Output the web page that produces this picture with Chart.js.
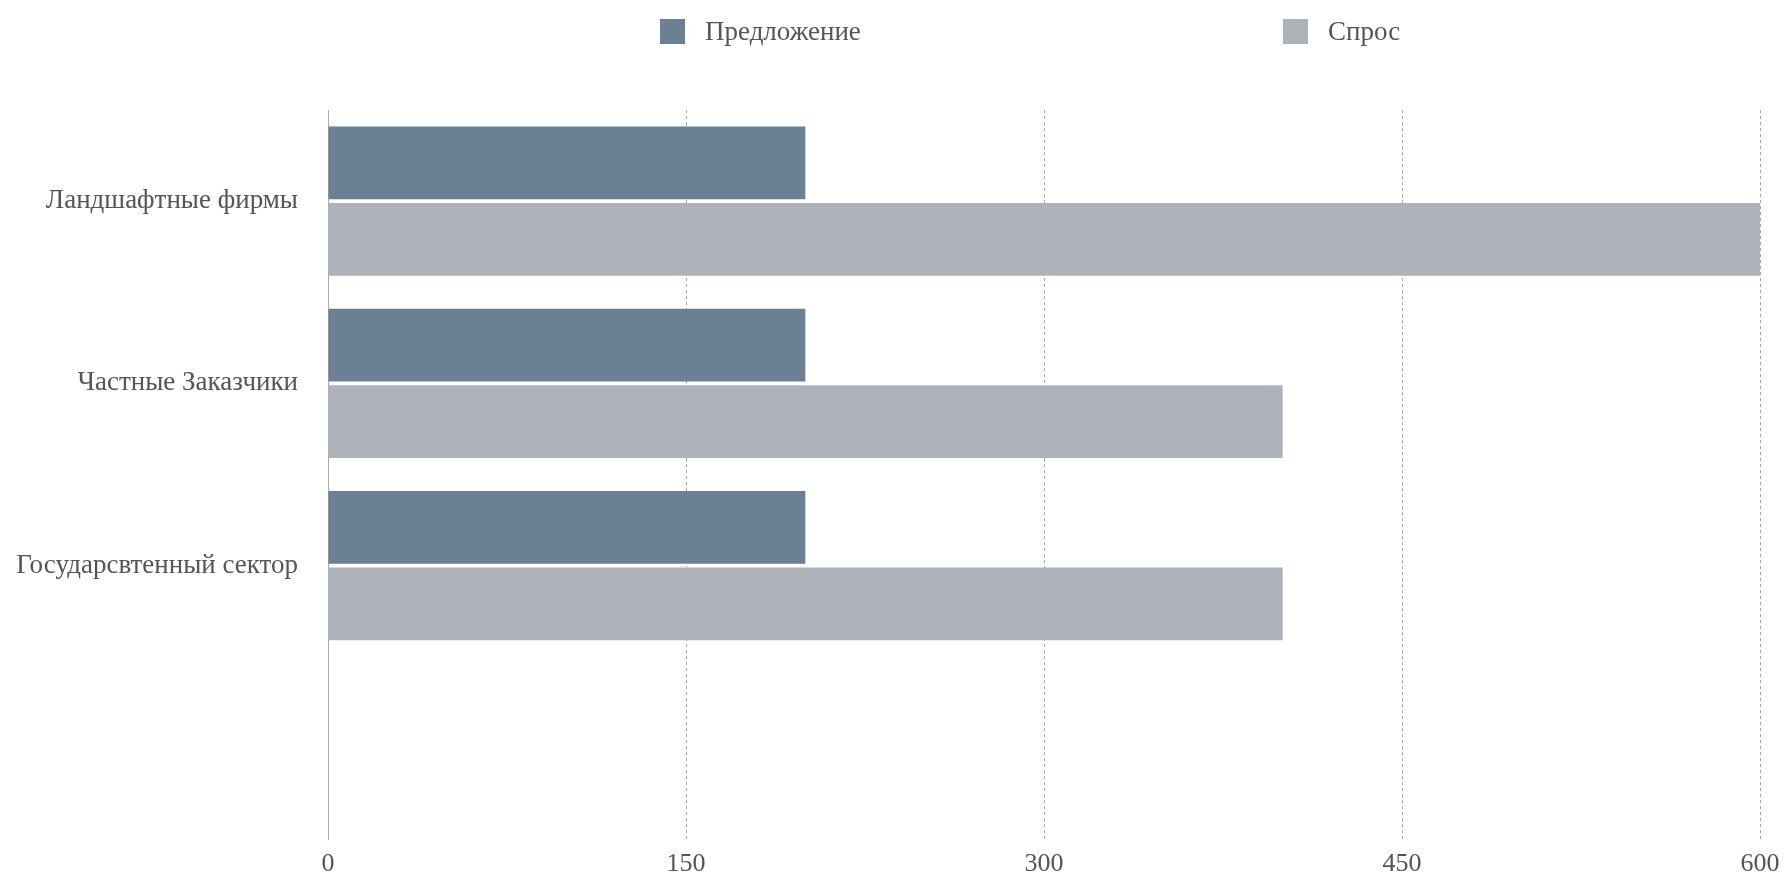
<!DOCTYPE html>
<html>
<head>
<meta charset="utf-8">
<script src="https://cdn.jsdelivr.net/npm/chart.js@4.4.0/dist/chart.umd.min.js"></script>
<style>
    html, body { margin: 0; padding: 0; background: #fff; }
    #wrap { position: relative; width: 1784px; height: 872px; }
    #legend { position: absolute; left: 0; top: 16px; width: 1784px; height: 30px;
        font-family: "Liberation Serif", "DejaVu Serif", serif; font-size: 27px; color: #555; }
    .item { position: absolute; top: 0; display: flex; align-items: center; white-space: nowrap; }
    .box { width: 25px; height: 25px; margin-right: 20px; }
</style>
</head>
<body>
<div id="wrap">
    <div id="legend"></div>
    <canvas id="myChart" width="1784" height="872"></canvas>
</div>
<script>
var categories = ['Ландшафтные фирмы', 'Частные Заказчики', 'Государсвтенный сектор', ''];
var supply = [200, 200, 200, null];
var demand = [600, 400, 400, null];
var xTicks = [0, 150, 300, 450, 600];

var colors = ['#6b8093', '#aeb2bb'];
var names = ['Предложение', 'Спрос'];
var legendLeft = [660, 1283];

Chart.defaults.font.family = '"Liberation Serif", "DejaVu Serif", serif';
Chart.defaults.font.size = 27;
Chart.defaults.color = '#555';

var ctx = document.getElementById('myChart').getContext('2d');
var chart = new Chart(ctx, {
    type: 'bar',
    data: {
        labels: categories,
        datasets: [{
            label: names[0],
            data: supply,
            backgroundColor: colors[0],
            categoryPercentage: 0.84,
            barPercentage: 0.95
        }, {
            label: names[1],
            data: demand,
            backgroundColor: colors[1],
            categoryPercentage: 0.84,
            barPercentage: 0.95
        }]
    },
    options: {
        indexAxis: 'y',
        responsive: false,
        animation: false,
        layout: { padding: { top: 110, right: 24, left: 0, bottom: 0 } },
        plugins: {
            legend: { display: false },
            tooltip: { enabled: false }
        },
        scales: {
            x: {
                min: 0,
                max: 600,
                afterBuildTicks: function(axis) {
                    axis.ticks = xTicks.map(function(v) { return { value: v }; });
                },
                grid: {
                    color: '#aaa',
                    lineWidth: 1,
                    drawTicks: false
                },
                border: { display: false, dash: [3, 3] },
                ticks: { padding: 10, font: { size: 26 } },
                afterFit: function(axis) {
                    axis.height = 33;
                    axis.paddingLeft = 0;
                    axis.paddingRight = 0;
                }
            },
            y: {
                grid: { display: false, drawTicks: false },
                border: { display: true, color: '#aaa', width: 1 },
                ticks: { padding: 30 },
                afterFit: function(axis) {
                    axis.width = 328;
                    axis.paddingTop = 0;
                    axis.paddingBottom = 0;
                }
            }
        }
    }
});

var legend = document.getElementById('legend');
chart.data.datasets.forEach(function(ds, i) {
    var item = document.createElement('div');
    item.className = 'item';
    item.style.left = legendLeft[i] + 'px';
    item.innerHTML = '<span class="box" style="background:' + ds.backgroundColor + '"></span><span>' + ds.label + '</span>';
    legend.appendChild(item);
});
</script>
</body>
</html>
